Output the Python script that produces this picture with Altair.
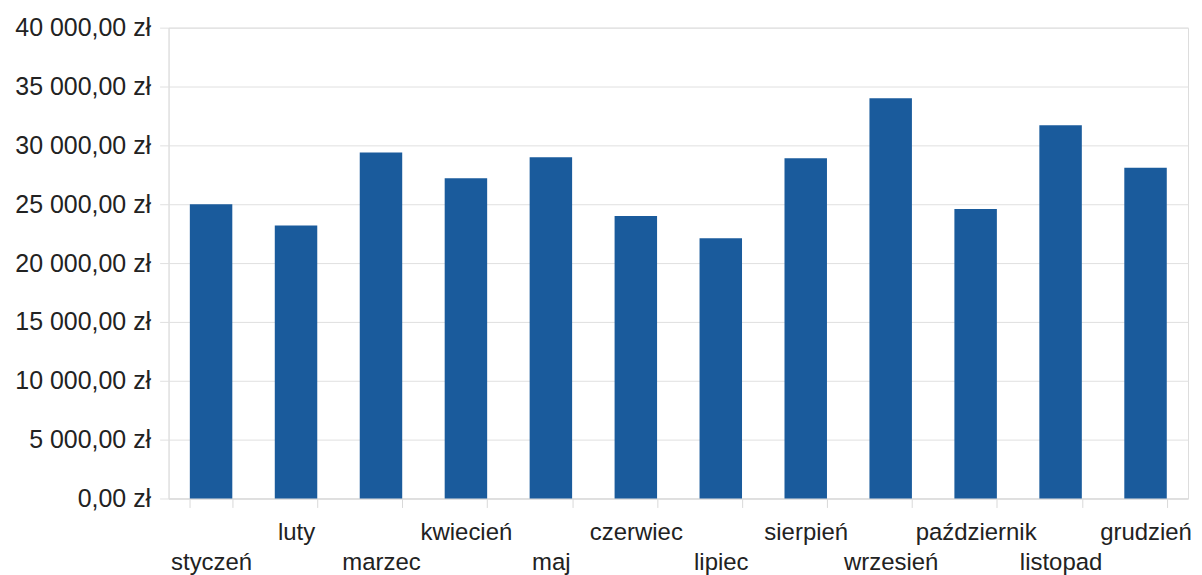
import altair as alt
import pandas as pd

months = ["styczeń", "luty", "marzec", "kwiecień", "maj", "czerwiec",
          "lipiec", "sierpień", "wrzesień", "październik", "listopad", "grudzień"]
values = [25000, 23200, 29400, 27200, 29000, 24000,
          22100, 28900, 34000, 24600, 31700, 28100]
y_ticks = [0, 5000, 10000, 15000, 20000, 25000, 30000, 35000, 40000]
y_tick_labels = ["0,00 zł", "5 000,00 zł", "10 000,00 zł", "15 000,00 zł",
                 "20 000,00 zł", "25 000,00 zł", "30 000,00 zł", "35 000,00 zł",
                 "40 000,00 zł"]

df = pd.DataFrame({"miesiac": months, "kwota": values})

months_js = "[" + ",".join("'" + m + "'" for m in months) + "]"
ylabels_js = "[" + ",".join("'" + s + "'" for s in y_tick_labels) + "]"

FONT = "Liberation Sans"

chart = alt.Chart(df).mark_bar(color="#1a5b9c").encode(
    x=alt.X(
        "miesiac:N",
        sort=months,
        title=None,
        scale=alt.Scale(paddingInner=0.5, paddingOuter=0.25),
        axis=alt.Axis(
            labelAngle=0,
            labelFontSize=24,
            labelFont=FONT,
            labelColor="#222222",
            labelLineHeight=30,
            labelPadding=13,
            tickBand="extent",
            tickSize=9,
            tickColor="#d9d9d9",
            domainColor="#d9d9d9",
            labelExpr=f"indexof({months_js}, datum.value) % 2 == 0 ? ['', datum.label] : datum.label",
        ),
    ),
    y=alt.Y(
        "kwota:Q",
        title=None,
        scale=alt.Scale(domain=[0, 40000], nice=False),
        axis=alt.Axis(
            values=y_ticks,
            labelFontSize=25,
            labelFont=FONT,
            labelColor="#222222",
            labelPadding=9,
            tickSize=9,
            tickColor="#e0e0e0",
            gridColor="#e0e0e0",
            domainColor="#e0e0e0",
            labelExpr=f"{ylabels_js}[round(datum.value / 5000)]",
        ),
    ),
).properties(
    width=1022,
    height=472,
    padding={"left": 6, "top": 7, "right": 2, "bottom": 0},
).configure_view(
    stroke="#e6e6e6",
).configure(
    background="white",
)

chart.save("out.html", embed_options={"renderer": "svg", "actions": False})
